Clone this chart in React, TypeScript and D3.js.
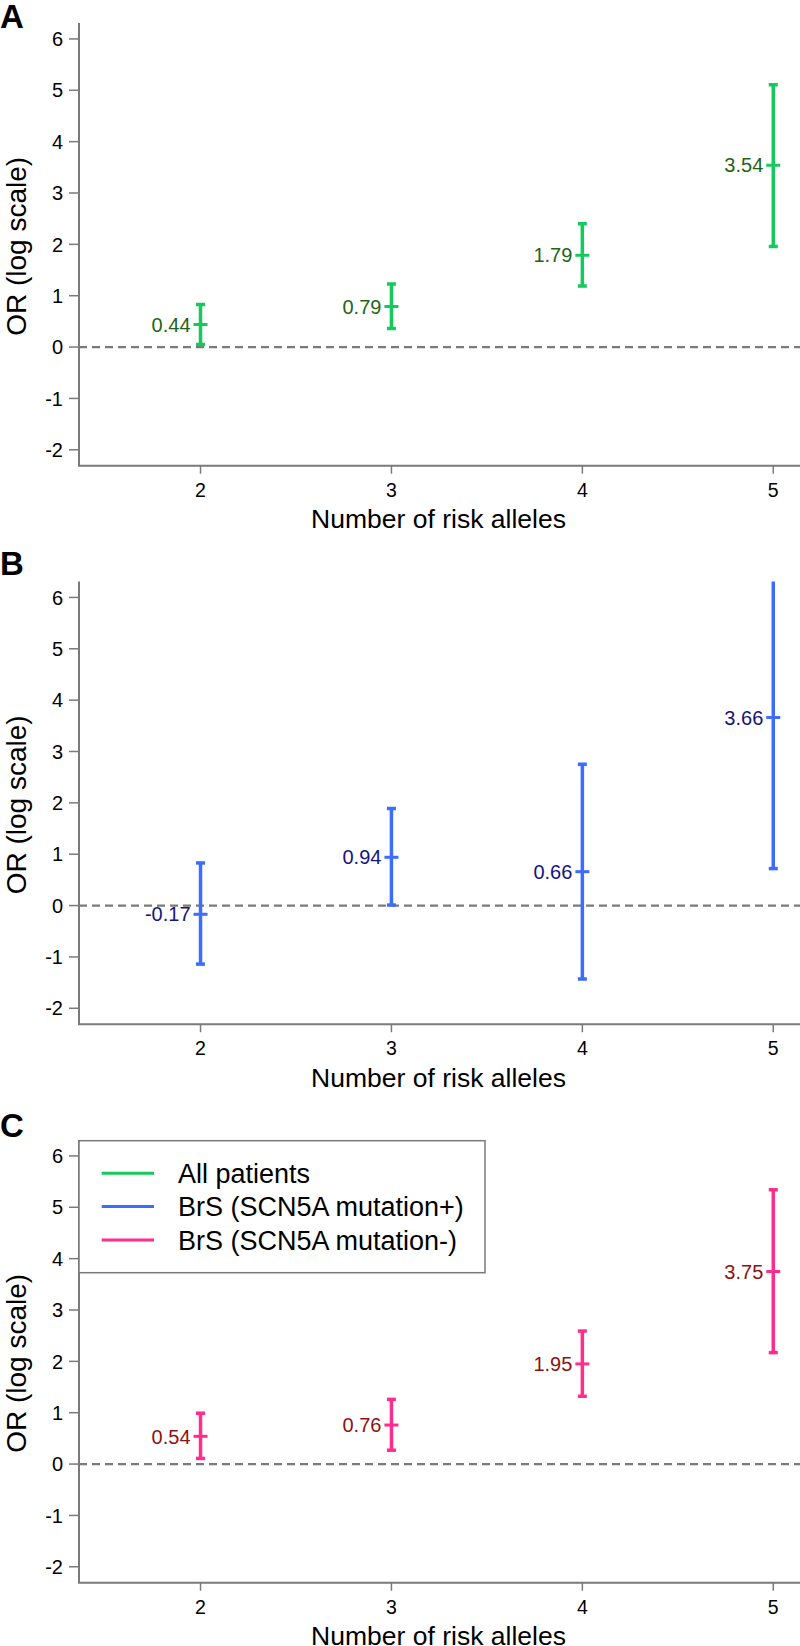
import React from "react";
import * as d3 from "d3";

// ---- data ----
const alleles = [2, 3, 4, 5];
const yTicks = [-2, -1, 0, 1, 2, 3, 4, 5, 6];

const allOR = [0.44, 0.79, 1.79, 3.54];
const allLo = [0.05, 0.36, 1.19, 1.96];
const allHi = [0.83, 1.23, 2.4, 5.11];

const plusOR = [-0.17, 0.94, 0.66, 3.66];
const plusLo = [-1.14, 0.01, -1.43, 0.72];
const plusHi = [0.83, 1.89, 2.75, 6.6];

const minusOR = [0.54, 0.76, 1.95, 3.75];
const minusLo = [0.11, 0.27, 1.32, 2.17];
const minusHi = [0.99, 1.26, 2.59, 5.34];

const panelLetters = ["A", "B", "C"];
const legendLabels = ["All patients", "BrS (SCN5A mutation+)", "BrS (SCN5A mutation-)"];
const xTitle = "Number of risk alleles";
const yTitle = "OR (log scale)";

// ---- styles / layout ----
const W = 800;
const H = 1646;
const PANEL_H = 558.5;
const plotLeft = 79;
const plotRight = 800;
const plotTop = 23;
const plotBottom = 465.7;
const letterBaselines = [28, 575, 1137];
const barColors = ["#16C95C", "#3D6DFF", "#FF2E8C"];
const labelColors = ["#1F6416", "#14147E", "#8A1212"];
const axisColor = "#7a7a7a";
const FONT = "Arial, 'Liberation Sans', Helvetica, sans-serif";

const panels = [
  { or: allOR, lo: allLo, hi: allHi },
  { or: plusOR, lo: plusLo, hi: plusHi },
  { or: minusOR, lo: minusLo, hi: minusHi },
];

const x = d3.scaleLinear().domain([1.3635, 5.14]).range([plotLeft, plotRight]);
const y = d3.scaleLinear().domain([-2.31, 6.31]).range([plotBottom, plotTop]);

function Panel({ idx }: { idx: number }) {
  const p = panels[idx];
  const off = idx * PANEL_H;
  const clipId = `clip-${idx}`;
  return (
    <g>
      <text
        x={0}
        y={letterBaselines[idx]}
        fontFamily={FONT}
        fontWeight="bold"
        fontSize={33}
        fill="#000"
      >
        {panelLetters[idx]}
      </text>
      <g transform={`translate(0,${off})`}>
        <defs>
          <clipPath id={clipId}>
            <rect x={plotLeft} y={plotTop} width={plotRight - plotLeft} height={plotBottom - plotTop} />
          </clipPath>
        </defs>
        {/* zero line */}
        <line
          x1={plotLeft}
          x2={plotRight}
          y1={y(0)}
          y2={y(0)}
          stroke="#7a7a7a"
          strokeWidth={2.2}
          strokeDasharray="8,5"
        />
        {/* axes */}
        <path
          d={`M${plotLeft},${plotTop}V${plotBottom}H${plotRight}`}
          fill="none"
          stroke={axisColor}
          strokeWidth={2}
        />
        {yTicks.map((t) => (
          <g key={`y${t}`}>
            <line x1={plotLeft - 10} x2={plotLeft} y1={y(t)} y2={y(t)} stroke={axisColor} strokeWidth={1.5} />
            <text
              x={plotLeft - 16}
              y={y(t)}
              dy="0.36em"
              textAnchor="end"
              fontFamily={FONT}
              fontSize={20}
              fill="#000"
            >
              {t}
            </text>
          </g>
        ))}
        {alleles.map((a) => (
          <g key={`x${a}`}>
            <line x1={x(a)} x2={x(a)} y1={plotBottom} y2={plotBottom + 8} stroke={axisColor} strokeWidth={1.5} />
            <text
              x={x(a)}
              y={plotBottom + 31}
              textAnchor="middle"
              fontFamily={FONT}
              fontSize={19.5}
              fill="#000"
            >
              {a}
            </text>
          </g>
        ))}
        <text
          x={(plotLeft + plotRight) / 2 - 1}
          y={528.3}
          textAnchor="middle"
          fontFamily={FONT}
          fontSize={26.5}
          fill="#000"
        >
          {xTitle}
        </text>
        <text
          transform={`translate(26,${(plotTop + plotBottom) / 2 + 2}) rotate(-90)`}
          textAnchor="middle"
          fontFamily={FONT}
          fontSize={28}
          fill="#000"
        >
          {yTitle}
        </text>
        {/* error bars */}
        <g clipPath={`url(#${clipId})`}>
          {alleles.map((a, i) => {
            const cx = x(a);
            return (
              <g key={`b${a}`} stroke={barColors[idx]} strokeWidth={3.5} fill="none">
                <line x1={cx} x2={cx} y1={y(p.lo[i])} y2={y(p.hi[i])} />
                <line x1={cx - 4.5} x2={cx + 4.5} y1={y(p.lo[i])} y2={y(p.lo[i])} />
                <line x1={cx - 4.5} x2={cx + 4.5} y1={y(p.hi[i])} y2={y(p.hi[i])} />
                <line x1={cx - 7} x2={cx + 7} y1={y(p.or[i])} y2={y(p.or[i])} strokeWidth={3} />
              </g>
            );
          })}
        </g>
        {alleles.map((a, i) => (
          <text
            key={`l${a}`}
            x={x(a) - 10}
            y={y(p.or[i])}
            dy="0.36em"
            textAnchor="end"
            fontFamily={FONT}
            fontSize={20}
            fill={labelColors[idx]}
          >
            {p.or[i].toFixed(2)}
          </text>
        ))}
        {idx === 2 && (
          <g>
            <rect
              x={plotLeft}
              y={plotTop + 0.7}
              width={406}
              height={132}
              fill="#fff"
              stroke={axisColor}
              strokeWidth={1.5}
            />
            {legendLabels.map((lab, j) => {
              const ly = plotTop + 33.3 + j * 33.3;
              return (
                <g key={lab}>
                  <line x1={101.7} x2={154} y1={ly} y2={ly} stroke={barColors[j]} strokeWidth={3} />
                  <text
                    x={178}
                    y={ly}
                    dy="0.36em"
                    fontFamily={FONT}
                    fontSize={27}
                    fill="#000"
                  >
                    {lab}
                  </text>
                </g>
              );
            })}
          </g>
        )}
      </g>
    </g>
  );
}

export default function App() {
  return (
    <div style={{ position: "absolute", left: 0, top: 0, width: W, height: H, background: "#fff" }}>
      <svg width={W} height={H} viewBox={`0 0 ${W} ${H}`} style={{ display: "block" }}>
        <rect x={0} y={0} width={W} height={H} fill="#fff" />
        {panels.map((_, i) => (
          <Panel key={i} idx={i} />
        ))}
      </svg>
    </div>
  );
}
